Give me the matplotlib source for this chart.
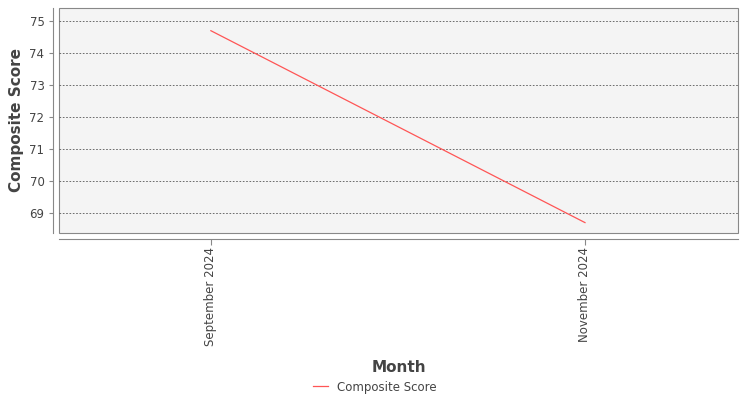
import matplotlib.pyplot as plt
from matplotlib.patches import Rectangle

months = ["September 2024", "November 2024"]
scores = [74.7, 68.7]

fig = plt.figure(figsize=(7.5, 4), dpi=100)
ax = fig.add_axes([59/750, 1-233/400, 679/750, 225/400])
ax.set_facecolor("#f4f4f4")
x = list(range(len(months)))
line, = ax.plot(x, scores, color="#ff5555", lw=0.9, label="Composite Score")
ax.set_xlim(-0.406, 1.409)
ax.set_ylim(68.375, 75.41)
ax.set_yticks(range(69, 76))
ax.set_xticks(x, months)
ax.tick_params(axis="y", labelsize=8.5, labelcolor="#444444", length=3, color="#888888")
ax.tick_params(axis="x", labelsize=8.5, labelcolor="#444444", labelrotation=90,
               length=4, color="#888888", pad=2)
ax.grid(axis="y", color="#555555", ls=(0, (2, 2)), lw=0.6)
for s in ax.spines.values():
    s.set_color("#888888")
    s.set_linewidth(0.8)
ax.spines["top"].set_visible(False)
ax.spines["right"].set_visible(False)
ax.spines["bottom"].set_position(("outward", 4))
ax.spines["left"].set_position(("outward", 4))
ax.add_patch(Rectangle((0, 0), 1, 1, transform=ax.transAxes, fill=False,
                       ec="#888888", lw=0.8, clip_on=False))
ax.set_ylabel("Composite Score", fontsize=11, fontweight="bold", color="#444444")
ax.set_xlabel("Month", fontsize=11, fontweight="bold", color="#444444", labelpad=10)
fig.legend(handles=[line], loc="center", bbox_to_anchor=(375/750, 1-387/400),
           frameon=False, fontsize=8.5, handlelength=1.2, labelcolor="#444444")
fig.savefig("out.png")
